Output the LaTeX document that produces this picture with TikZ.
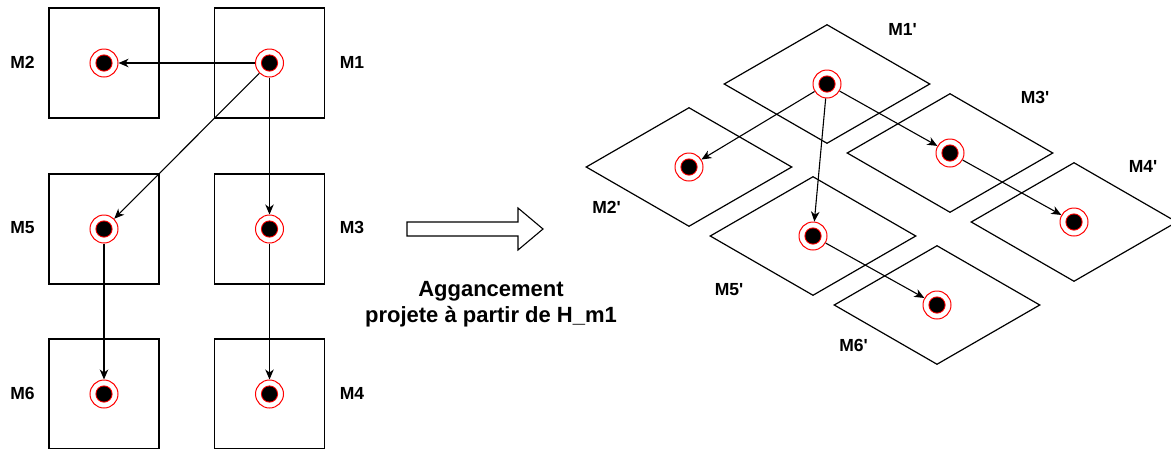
\documentclass[tikz,border=0pt]{standalone}
\usepackage{fontspec}
\setmainfont{Liberation Sans}
\usetikzlibrary{arrows.meta,shapes.geometric}
\begin{document}
\begin{tikzpicture}[x=1pt,y=-1pt,
  sq/.style={draw, line width=1.2pt, minimum size=110pt, inner sep=0pt, outer sep=0pt},
  dia/.style={draw, diamond, line width=1.2pt, minimum width=206pt, minimum height=119pt, inner sep=0pt},
  mk/.style={circle, draw=red, fill=white, line width=1pt, minimum size=28pt, inner sep=0pt,
    path picture={\fill[red] (path picture bounding box.center) circle (8.6pt);
                  \fill[black] (path picture bounding box.center) circle (7.6pt);}},
  lab/.style={font=\fontsize{17.5}{20}\selectfont\bfseries, anchor=base},
  arr/.style={-{Stealth[length=10pt,width=8.5pt,inset=3pt]}, line width=1.1pt},
  bigarrow/.style={draw, line width=1.1pt, fill=white},
]
\useasboundingbox (0,0) rectangle (1171,448);

% left squares
\node[sq] (s2) at (104,63) {};
\node[sq] (s1) at (269.5,63) {};
\node[sq] (s5) at (104,229) {};
\node[sq] (s3) at (269.5,229) {};
\node[sq] (s6) at (104,394) {};
\node[sq] (s4) at (269.5,394) {};

% left markers
\node[mk] (m2) at (s2.center) {};
\node[mk] (m1) at (s1.center) {};
\node[mk] (m5) at (s5.center) {};
\node[mk] (m3) at (s3.center) {};
\node[mk] (m6) at (s6.center) {};
\node[mk] (m4) at (s4.center) {};

% left labels
\node[lab] (l2) at (22.5,68.5) {M2};
\node[lab] (l1) at (352,68.5) {M1};
\node[lab] (l5) at (22.5,233.5) {M5};
\node[lab] (l3) at (352,233.5) {M3};
\node[lab] (l6) at (22.5,399.5) {M6};
\node[lab] (l4) at (352,399.5) {M4};

% left arrows
\draw[arr] (m1) -- (m2);
\draw[arr] (m1) -- (m3);
\draw[arr] (m1) -- (m5);
\draw[arr] (m5) -- (m6);
\draw[arr] (m3) -- (m4);

% block arrow
\draw[bigarrow] (407,222) -- (518,222) -- (518,208) -- (543,229) -- (518,250) -- (518,236) -- (407,236) -- cycle;

% caption
\node[font=\fontsize{22}{25.5}\selectfont\bfseries, align=center] (cap) at (491,304)
  {Aggancement\\projete à partir de H\_m1};

% right diamonds
\node[dia] (d1) at (827,84) {};
\node[dia] (d2) at (689,167) {};
\node[dia] (d3) at (950,153) {};
\node[dia] (d4) at (1074,222) {};
\node[dia] (d5) at (813,236) {};
\node[dia] (d6) at (937,305) {};

% right markers
\node[mk] (n1) at (d1.center) {};
\node[mk] (n2) at (d2.center) {};
\node[mk] (n3) at (d3.center) {};
\node[mk] (n4) at (d4.center) {};
\node[mk] (n5) at (d5.center) {};
\node[mk] (n6) at (d6.center) {};

% right labels
\node[lab] (k1) at (902.5,35) {M1\textquotesingle};
\node[lab] (k3) at (1035,103.5) {M3\textquotesingle};
\node[lab] (k4) at (1143,172) {M4\textquotesingle};
\node[lab] (k2) at (606.5,213.5) {M2\textquotesingle};
\node[lab] (k5) at (729,295) {M5\textquotesingle};
\node[lab] (k6) at (853.5,351.5) {M6\textquotesingle};

% right arrows
\draw[arr] (n1) -- (n2);
\draw[arr] (n1) -- (n5);
\draw[arr] (n1) -- (n3);
\draw[arr] (n3) -- (n4);
\draw[arr] (n5) -- (n6);
\end{tikzpicture}
\end{document}
